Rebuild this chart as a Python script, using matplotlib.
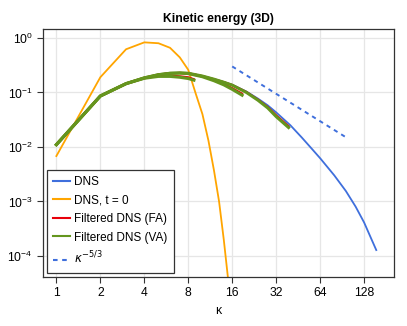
import matplotlib
matplotlib.use("Agg")
import matplotlib.pyplot as plt
import numpy as np

plt.rcParams["font.family"] = ["Liberation Sans", "DejaVu Sans"]
plt.rcParams["mathtext.fontset"] = "dejavusans"

# DNS spectrum (final time)
k_dns = [1, 2, 3, 4, 5, 6, 7, 8, 10, 12, 14, 16, 20, 24, 28, 32, 40, 48, 56, 64,
         80, 96, 112, 128, 144, 155]
e_dns = [0.0110, 0.086, 0.145, 0.185, 0.212, 0.225, 0.228, 0.225, 0.200, 0.175,
         0.155, 0.138, 0.104, 0.077, 0.058, 0.043, 0.025, 0.0148, 0.0093, 0.0062,
         0.0030, 0.00155, 0.00080, 0.00041, 0.00020, 0.000128]

# DNS spectrum at t = 0
k_init = [1, 2, 3, 4, 5, 6, 7, 8, 9, 10, 11, 12, 13, 14, 15]
e_init = [0.0068, 0.19, 0.62, 0.83, 0.80, 0.66, 0.44, 0.26, 0.095, 0.040, 0.013,
          0.0037, 0.001, 0.0002, 0.000037]

# filtered DNS, three filter widths
k_f1 = [1, 2, 3, 4, 5, 6, 7, 8, 8.75]
k_f2 = [1, 2, 3, 4, 5, 6, 7, 8, 10, 12, 14, 16, 18.7]
k_f3 = [1, 2, 3, 4, 5, 6, 7, 8, 10, 12, 14, 16, 20, 24, 28, 32, 38.9]

e_fa1 = [0.0110, 0.086, 0.145, 0.183, 0.200, 0.203, 0.198, 0.190, 0.175]
e_va1 = [0.0110, 0.086, 0.145, 0.182, 0.197, 0.197, 0.190, 0.180, 0.168]
e_fa2 = [0.0110, 0.086, 0.145, 0.185, 0.212, 0.225, 0.228, 0.224, 0.197, 0.168,
         0.143, 0.120, 0.095]
e_va2 = [0.0110, 0.086, 0.145, 0.185, 0.211, 0.224, 0.227, 0.222, 0.194, 0.164,
         0.138, 0.114, 0.089]
e_fa3 = [0.0110, 0.086, 0.145, 0.185, 0.212, 0.225, 0.228, 0.225, 0.200, 0.175,
         0.155, 0.137, 0.102, 0.074, 0.054, 0.038, 0.024]
e_va3 = [0.0110, 0.086, 0.145, 0.185, 0.212, 0.225, 0.228, 0.225, 0.200, 0.175,
         0.154, 0.136, 0.100, 0.072, 0.052, 0.036, 0.0227]

# reference slope line
k_ref = [16, 97]
e_ref = [0.30, 0.0148]

fig = plt.figure(figsize=(4.07, 3.26), dpi=100)
ax = fig.add_axes([43 / 407, 1 - 277 / 326, 351 / 407, 248 / 326])

c_blue = "#3f6fdc"
c_orange = "#ffa500"
c_red = "#e8000b"
c_green = "#64961e"

ax.plot(k_dns, e_dns, color=c_blue, lw=1.3, label="DNS")
ax.plot(k_init, e_init, color=c_orange, lw=1.3, label="DNS, t = 0")
for kf, fa, va in [(k_f1, e_fa1, e_va1), (k_f2, e_fa2, e_va2), (k_f3, e_fa3, e_va3)]:
    ax.plot(kf, fa, color=c_red, lw=1.5, label="Filtered DNS (FA)")
    ax.plot(kf, va, color=c_green, lw=2.2, label="Filtered DNS (VA)")
ax.plot(k_ref, e_ref, color=c_blue, lw=1.4, ls=(0, (2.2, 2.2)), label=r"$\kappa^{-5/3}$")

ax.set_xscale("log", base=2)
ax.set_yscale("log")
ax.set_xlim(0.81, 205)
ax.set_ylim(4.1e-5, 1.46)

xt = [1, 2, 4, 8, 16, 32, 64, 128]
ax.set_xticks(xt)
ax.set_xticklabels([str(v) for v in xt])
ax.xaxis.set_minor_locator(matplotlib.ticker.NullLocator())
ax.set_yticks([1e0, 1e-1, 1e-2, 1e-3, 1e-4])
ax.yaxis.set_minor_locator(matplotlib.ticker.NullLocator())

ax.tick_params(direction="out", length=4, width=0.8, labelsize=8.7, color="#333333")
ax.grid(True, color="#e6e6e6", lw=0.9)
ax.set_axisbelow(True)
for s in ax.spines.values():
    s.set_color("#333333")
    s.set_linewidth(0.9)

ax.set_title("Kinetic energy (3D)", fontsize=8.7, fontweight="bold", pad=5)
ax.set_xlabel("κ", fontsize=8.7, labelpad=4)

handles, labels = ax.get_legend_handles_labels()
keep = [0, 1, 2, 3, 8]
leg = ax.legend([handles[i] for i in keep], [labels[i] for i in keep],
                loc="lower left", bbox_to_anchor=(0.012, 0.018), fontsize=8.5,
                frameon=True, fancybox=False, framealpha=1, edgecolor="#333333",
                handlelength=1.4, handletextpad=0.4, labelspacing=0.55,
                borderpad=0.5, borderaxespad=0)
leg.get_frame().set_linewidth(0.9)
for h in leg.get_lines():
    h.set_linewidth(1.5)

fig.savefig("out.png", dpi=100)
